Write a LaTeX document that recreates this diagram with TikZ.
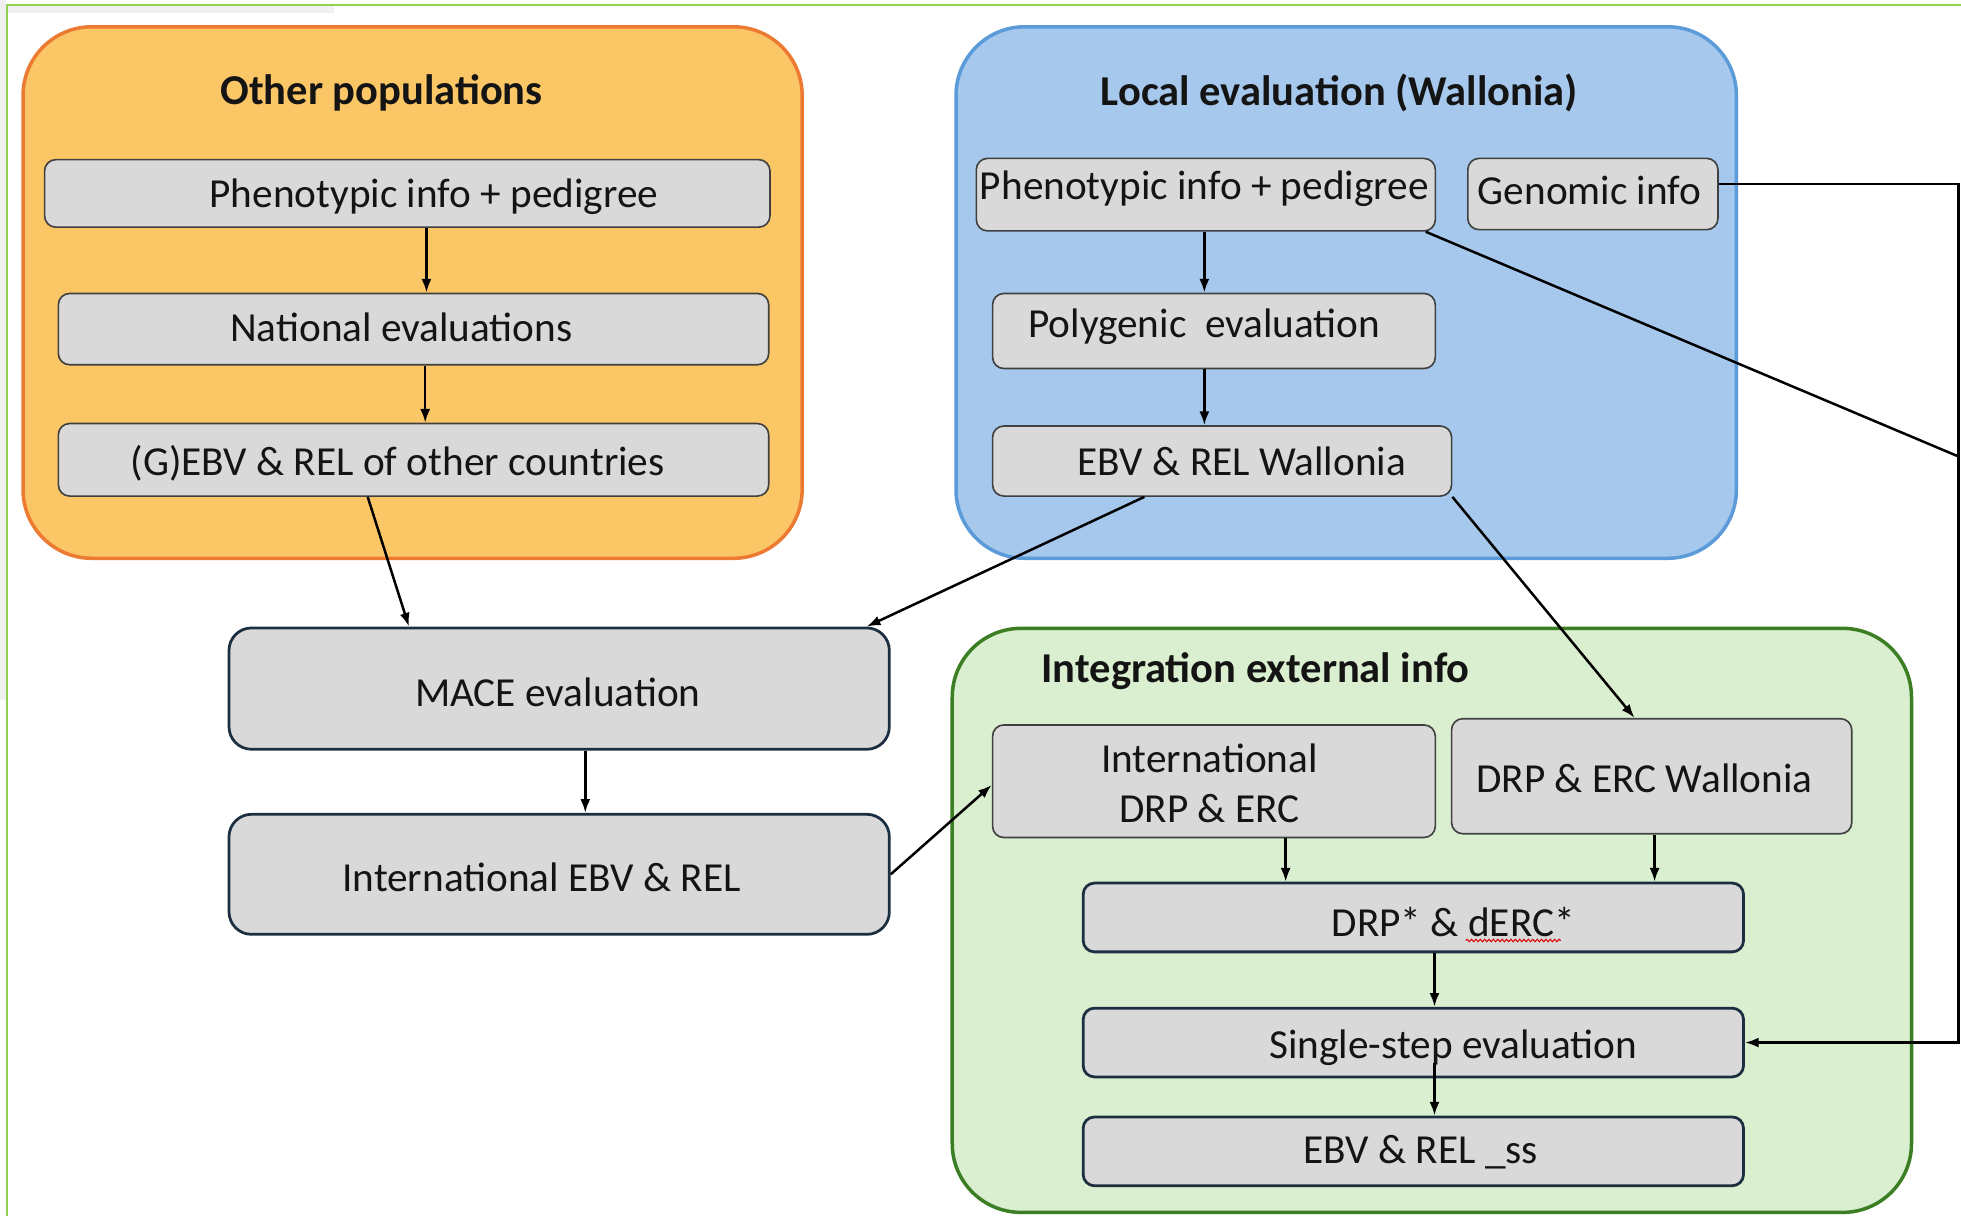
\documentclass[tikz,border=0pt]{standalone}
\usepackage{fontspec}
\setmainfont{Carlito}
\usetikzlibrary{arrows.meta,calc,decorations.pathmorphing}

\definecolor{orfill}{HTML}{FBC766}
\definecolor{orline}{HTML}{EC7A32}
\definecolor{blfill}{HTML}{A5C8EC}
\definecolor{blline}{HTML}{5B9BDA}
\definecolor{grfill}{HTML}{DAEED0}
\definecolor{grline}{HTML}{3C7E24}
\definecolor{boxfill}{HTML}{D9D9D9}
\definecolor{boxline}{HTML}{404040}
\definecolor{navy}{HTML}{1C2F40}
\definecolor{framegreen}{HTML}{92D050}
\definecolor{ink}{HTML}{141414}

\tikzset{
  grp/.style={rounded corners=55pt, line width=2.8pt, inner sep=0pt, anchor=north west},
  box/.style={draw=boxline, fill=boxfill, rounded corners=9pt, line width=1.3pt, inner sep=0pt, anchor=north west},
  nbox/.style={box, draw=navy, line width=2.2pt},
  bigbox/.style={nbox, rounded corners=18pt},
  lbl/.style={font=\fontsize{33}{40}\selectfont, text=ink, inner sep=0pt, yshift=-2.5pt},
  ttl/.style={font=\bfseries\fontsize{34}{40}\selectfont, text=ink, inner sep=0pt, yshift=-2pt},
  arr/.style={draw=black, line width=2pt, -{Latex[length=11pt,width=8pt]}},
  wire/.style={draw=black, line width=2pt},
}

\begin{document}
\begin{tikzpicture}[x=1pt,y=-1pt]
\useasboundingbox (0,0) rectangle (1568,972);
\clip (0,0) rectangle (1568,972);
\fill[white] (0,0) rectangle (1568,972);

% slide frame
\fill[black!6] (0,0) rectangle (5,560);
\fill[black!6] (6,5) rectangle (267,10);
\draw[framegreen, line width=1.6pt] (1568,4) -- (5.5,4) -- (5.5,972);

% group panels
\node[grp, fill=orfill, draw=orline, minimum width=623pt, minimum height=425pt] (pop) at (17,20) {};
\node[grp, fill=blfill, draw=blline, minimum width=624pt, minimum height=425pt] (loc) at (763,20) {};
\node[grp, fill=grfill, draw=grline, minimum width=767pt, minimum height=467pt] (ext) at (760,501) {};

\node[ttl] (tpop) at (305,72) {Other populations};
\node[ttl] (tloc) at (1071,72) {Local evaluation (Wallonia)};
\node[ttl] (text) at (1004,535) {Integration external info};

% other populations
\node[box, minimum width=580pt, minimum height=54pt] (O1) at (35,127) {};
\node[box, minimum width=568pt, minimum height=57pt] (O2) at (46,234) {};
\node[box, minimum width=568pt, minimum height=58pt] (O3) at (46,338) {};
\node[lbl] (tO1) at (347,155) {Phenotypic info + pedigree};
\node[lbl] (tO2) at (321,259) {National evaluations};
\node[lbl] (tO3) at (318,368) {(G)EBV \& REL of other countries};

% local evaluation
\node[box, minimum width=367pt, minimum height=58pt] (B1) at (780,126) {};
\node[box, minimum width=200pt, minimum height=57pt] (B2) at (1173,126) {};
\node[box, minimum width=354pt, minimum height=60pt] (B3) at (793,234) {};
\node[box, minimum width=367pt, minimum height=56pt] (B4) at (793,340) {};
\node[lbl] (tB1) at (963,148) {Phenotypic info + pedigree};
\node[lbl] (tB2) at (1271,150) {Genomic info};
\node[lbl] (tB3) at (963,259) {Polygenic\ \ evaluation};
\node[lbl] (tB4) at (993,366) {EBV \& REL Wallonia};

% international evaluation
\node[bigbox, minimum width=528pt, minimum height=97pt] (MACE) at (182,501) {};
\node[bigbox, minimum width=528pt, minimum height=96pt] (IEBV) at (182,650) {};
\node[lbl] (tMACE) at (446,551) {MACE evaluation};
\node[lbl] (tIEBV) at (433,699) {International EBV \& REL};

% integration of external information
\node[box, minimum width=354pt, minimum height=90pt] (G1) at (793,579) {};
\node[box, minimum width=320pt, minimum height=92pt] (G2) at (1160,574) {};
\node[nbox, minimum width=528pt, minimum height=55pt] (G3) at (865,705) {};
\node[nbox, minimum width=528pt, minimum height=55pt] (G4) at (865,805) {};
\node[nbox, minimum width=528pt, minimum height=55pt] (G5) at (865,892) {};
\node[lbl] (tG1a) at (967,604) {International};
\node[lbl] (tG1b) at (967,644) {DRP \& ERC};
\node[lbl] (tG2) at (1315,620) {DRP \& ERC Wallonia};
\node[lbl] (tG3) at (1162,735) {DRP* \& dERC*};
\node[lbl] (tG4) at (1162,835) {Single-step evaluation};
\node[lbl] (tG5) at (1136,919) {EBV \& REL \_ss};
\draw[red!85!black, line width=0.8pt, decorate,
      decoration={snake, amplitude=1pt, segment length=3.5pt}] (1172,752) -- (1248,752);

% free ends of the genomic line
\coordinate (gTop) at (1566,147);
\coordinate (gJoin) at (1566,365);

% connectors
\draw[arr] (341,0 |- O1.south) -- (341,0 |- O2.north);
\draw[arr] (340,0 |- O2.south) -- (340,0 |- O3.north);
\draw[arr] (963,0 |- B1.south) -- (963,0 |- B3.north);
\draw[arr] (963,0 |- B3.south) -- (963,0 |- B4.north);
\draw[arr] (294,0 |- O3.south) -- (327,0 |- MACE.north);
\draw[arr] (915,0 |- B4.south) -- (693,0 |- MACE.north);
\draw[arr] (468,0 |- MACE.south) -- (468,0 |- IEBV.north);
\draw[arr] (IEBV.east) -- ([yshift=-3pt]G1.west);
\draw[arr] (B4.south east) -- (1307,0 |- G2.north);
\draw[arr] (1028,0 |- G1.south) -- (1028,0 |- G3.north);
\draw[arr] (1323,0 |- G2.south) -- (1323,0 |- G3.north);
\draw[arr] (1147,0 |- G3.south) -- (1147,0 |- G4.north);
\draw[arr] ([yshift=12pt]1147,0 |- G4.south) -- (1147,0 |- G5.north);
\draw[arr] (B2.east |- gTop) -- (gTop) |- (G4.east);
\draw[wire] (1140,0 |- B1.south) -- (gJoin);
\end{tikzpicture}
\end{document}
